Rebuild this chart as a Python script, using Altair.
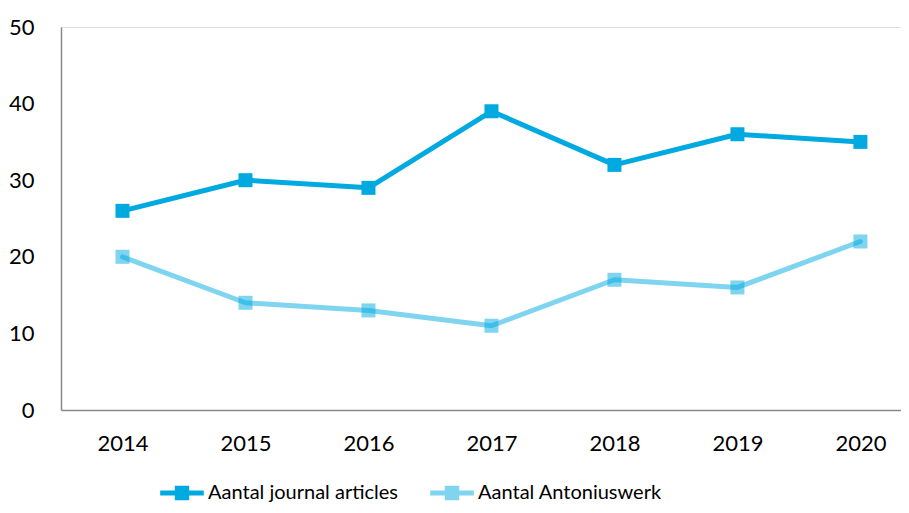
import altair as alt
import pandas as pd

years = [2014, 2015, 2016, 2017, 2018, 2019, 2020]
journal = [26, 30, 29, 39, 32, 36, 35]
antonius = [20, 14, 13, 11, 17, 16, 22]
series_names = ["Aantal journal articles", "Aantal Antoniuswerk"]
y_ticks = [0, 10, 20, 30, 40, 50]

rows = []
for name, vals in zip(series_names, [journal, antonius]):
    for yr, v in zip(years, vals):
        rows.append({"year": yr, "value": v, "series": name})
df = pd.DataFrame(rows)

FONT = "Lato"
BLUE = "#00A9E0"

x = alt.X("year:Q",
          scale=alt.Scale(domain=[2013.5, 2020.33], nice=False, zero=False),
          axis=alt.Axis(values=years, format="d", title=None, grid=False, ticks=False,
                        labelFontSize=22, labelFont=FONT, labelColor="#000000",
                        labelPadding=23, domainColor="#898989", domainWidth=1.5))
y = alt.Y("value:Q",
          scale=alt.Scale(domain=[0, 50], nice=False),
          axis=alt.Axis(values=y_ticks, title=None, grid=False, ticks=False,
                        labelFontSize=22, labelFont=FONT, labelColor="#000000",
                        labelPadding=27, domainColor="#898989", domainWidth=1.5))
color = alt.Color("series:N", scale=alt.Scale(domain=series_names, range=[BLUE, BLUE]),
                  legend=alt.Legend(title=None, orient="none", direction="horizontal",
                                    legendX=99, legendY=444,
                                    labelFont=FONT, labelFontSize=20, labelColor="#000000",
                                    labelLimit=0,
                                    symbolType="M-1,-0.11H1V0.11H-1Z M-0.33,-0.33H0.33V0.33H-0.33Z",
                                    symbolSize=1900, symbolStrokeWidth=0,
                                    labelOffset=4, columnPadding=32))
opacity = alt.Opacity("series:N", scale=alt.Scale(domain=series_names, range=[1, 0.5]),
                      legend=None)

lines = alt.Chart(df).mark_line(strokeWidth=5, strokeJoin="round", strokeCap="round").encode(
    x=x, y=y, color=color, opacity=opacity, detail="series:N")
points = alt.Chart(df).mark_point(shape="square", filled=True, size=196).encode(
    x=x, y=y, color=color, opacity=opacity)

chart = alt.layer(lines, points).properties(
    width=840, height=383,
    autosize=alt.AutoSizeParams(type="none"),
    padding={"left": 53, "top": 19, "right": 0, "bottom": 95},
).configure_view(stroke=None).configure(font=FONT)

chart.save("out.html", embed_options={"renderer": "svg", "actions": False})
